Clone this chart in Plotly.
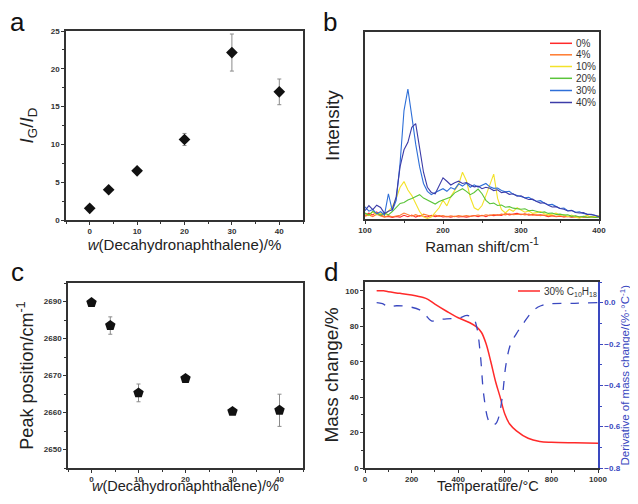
import plotly.graph_objects as go

OFF = 8               # page body margin in the browser
FW, FH = 638 - 2 * OFF, 504 - 2 * OFF   # figure fits the 638x504 window without scrolling

# ---------- Panel a data ----------
a_x = [0, 4, 10, 20, 30, 40]
a_y = [1.55, 4.0, 6.5, 10.65, 22.15, 16.95]
a_err = [0.15, 0.15, 0.15, 0.8, 2.45, 1.7]

# ---------- Panel b data ----------
b_x = list(range(100, 401, 5))
b_labels = ["0%", "4%", "10%", "20%", "30%", "40%"]
b_colors = ["#ff2a2a", "#ff7a2e", "#f3e22a", "#5ac43a", "#2e6fd8", "#3c3ca8"]
b_0 = [2.0, 3.1, 2.2, 3.8, 2.1, 1.2, 1.4, 0.9, 1.3, 1.0, 2.0, 1.2, 2.1, 1.0, 1.9, 1.7,
       1.1, 2.0, 1.2, 1.8, 1.1, 1.4, 1.0, 1.5, 1.1, 1.3, 1.0, 1.4, 1.9, 1.2, 2.0, 1.3,
       2.1, 1.8, 2.2, 1.9, 2.9, 2.2, 2.8, 3.0, 2.3, 2.8, 2.1, 2.4, 2.0, 2.2, 1.9, 1.3,
       1.8, 1.2, 1.5, 1.1, 1.3, 1.0, 1.2, 0.9, 1.1, 0.8, 1.0, 0.9, 1.1]
b_4 = [1.5, 2.2, 1.3, 2.5, 1.6, 1.0, 1.8, 1.2, 1.6, 2.0, 3.2, 2.4, 1.5, 2.3, 1.4, 2.6,
       2.0, 1.5, 2.1, 1.4, 1.9, 1.2, 1.7, 1.3, 1.8, 1.5, 1.9, 1.4, 1.7, 2.1, 1.6, 2.3,
       1.8, 2.4, 2.0, 2.6, 2.2, 2.8, 2.3, 2.5, 2.7, 2.2, 2.6, 2.0, 2.3, 1.8, 2.1, 1.6,
       1.9, 1.4, 1.7, 1.2, 1.5, 1.1, 1.4, 1.0, 1.3, 0.9, 1.2, 1.0, 1.3]
b_10 = [3.0, 1.8, 4.0, 2.2, 3.1, 1.9, 4.2, 6.5, 11.0, 17.0, 20.0, 15.5, 12.5, 8.0, 4.0,
        1.2, 0.3, 1.0, 3.5, 6.0, 10.0, 7.0, 12.0, 15.5, 18.5, 25.0, 20.5, 11.5, 6.0, 4.8,
        7.2, 12.5, 18.0, 24.0, 11.0, 5.0, 3.2, 5.2, 4.1, 6.0, 4.8, 3.6, 4.3, 3.0, 3.4,
        4.0, 2.8, 2.2, 2.6, 3.1, 2.0, 2.4, 1.2, 2.1, 1.0, 0.4, 1.3, 2.0, 0.9, 1.2, 1.8]
b_20 = [3.2, 2.1, 4.1, 2.9, 2.0, 3.2, 2.2, 4.0, 6.2, 8.3, 8.8, 10.2, 11.0, 12.2, 13.0,
        11.2, 10.1, 9.2, 8.0, 9.3, 10.1, 11.2, 11.8, 14.0, 15.0, 16.2, 14.8, 13.0, 14.2,
        16.0, 13.5, 10.0, 8.2, 8.5, 7.2, 7.5, 6.3, 6.6, 5.8, 5.4, 5.2, 5.5, 4.4, 4.7, 4.0,
        3.5, 3.8, 3.0, 3.2, 2.4, 2.6, 2.1, 2.3, 1.4, 1.7, 1.1, 1.4, 0.9, 1.2, 0.8, 1.0]
b_30 = [6.5, 4.2, 5.1, 2.8, 3.9, 2.2, 13.5, 4.5, 10.0, 30.0, 58.0, 69.5, 55.0, 40.0,
        28.0, 19.0, 14.8, 13.0, 14.2, 15.3, 16.2, 14.8, 16.8, 15.9, 18.8, 17.6, 19.2,
        17.0, 18.3, 17.1, 18.0, 19.0, 17.2, 16.4, 16.6, 15.2, 14.5, 14.8, 13.2, 12.6,
        12.2, 11.4, 11.6, 10.3, 9.5, 9.8, 8.4, 7.6, 7.8, 6.5, 5.6, 5.9, 4.4, 4.7, 3.6,
        3.9, 3.0, 2.6, 2.4, 2.0, 1.2]
b_40 = [4.5, 7.2, 5.0, 7.4, 6.2, 3.0, 4.2, 5.0, 12.0, 28.0, 37.0, 41.0, 49.0, 51.0,
        38.0, 25.0, 17.0, 14.2, 13.5, 18.0, 22.0, 20.2, 18.2, 19.4, 20.2, 19.0, 19.5,
        18.3, 17.2, 17.6, 16.2, 17.0, 16.4, 15.2, 15.6, 14.1, 14.4, 13.2, 13.5, 12.2,
        12.4, 11.2, 10.4, 10.6, 9.3, 8.5, 8.7, 7.3, 6.4, 6.6, 5.6, 5.2, 4.3, 4.5, 3.5,
        3.2, 3.4, 2.4, 2.5, 1.9, 1.3]
b_series = [b_0, b_4, b_10, b_20, b_30, b_40]

# ---------- Panel c data ----------
c_x = [0, 4, 10, 20, 30, 40]
c_y = [2689.7, 2683.5, 2665.3, 2669.2, 2660.3, 2660.6]
c_err = [0.3, 2.35, 2.4, 0.3, 0.3, 4.35]

# ---------- Panel d data ----------
d_label = "30% C<sub>10</sub>H<sub>18</sub>"
d_T = [50, 80, 100, 150, 200, 250, 270, 300, 350, 400, 450, 480, 500, 520, 540,
       560, 580, 600, 620, 650, 700, 750, 800, 900, 1000]
d_M = [100, 100, 99.5, 98.6, 97.6, 96.2, 95.2, 92.5, 88.5, 84.8, 82.0, 79.5, 76.5,
       70.0, 60.0, 49.0, 40.0, 30.5, 25.0, 21.0, 16.8, 15.0, 14.5, 14.2, 14.0]
dtg_T = [50, 75, 100, 135, 190, 235, 260, 285, 320, 350, 400, 440, 465, 480, 495,
         510, 530, 545, 555, 565, 575, 590, 605, 625, 650, 680, 720, 755, 800, 900, 1000]
dtg_D = [0.0, -0.005, -0.02, -0.015, -0.02, -0.035, -0.06, -0.088, -0.082, -0.078,
         -0.075, -0.062, -0.075, -0.12, -0.25, -0.45, -0.57, -0.59, -0.59, -0.58,
         -0.55, -0.45, -0.3, -0.2, -0.15, -0.1, -0.04, -0.015, -0.005, -0.003, 0.0]

# ---------- helpers (screen pixels -> paper fractions) ----------
def px(x):
    return (x - OFF) / FW

def py(y):
    return 1 - (y - OFF) / FH

def xd(x0, x1):
    return [px(x0), px(x1)]

def yd(y0, y1):  # y0 top px, y1 bottom px
    return [py(y1), py(y0)]

FONT = "Liberation Sans, Arial, sans-serif"
TICKFONT = dict(family=FONT, size=8, color="#333333", weight="bold")
TITLEFONT = dict(family=FONT, size=15, color="#222222")
YTITLEFONT = dict(family=FONT, size=19, color="#222222")
BLUE = "#3a48c0"
BOTTOM = 468  # bottom edge of panels c and d

def ax(**kw):
    base = dict(showline=True, linecolor="#333333", linewidth=1.5, mirror=True,
                ticks="outside", ticklen=3, tickwidth=1, tickcolor="#333333",
                showgrid=False, zeroline=False, tickfont=TICKFONT, automargin=False)
    base.update(kw)
    return base

fig = go.Figure()

# Panel a
fig.add_trace(go.Scatter(x=a_x, y=a_y, mode="markers", xaxis="x", yaxis="y",
                         marker=dict(symbol="diamond", size=9, color="#111111"),
                         error_y=dict(type="data", array=a_err, color="#8a8a8a",
                                      thickness=1, width=2),
                         showlegend=False))

# Panel b
for lab, col, ys in zip(b_labels, b_colors, b_series):
    fig.add_trace(go.Scatter(x=b_x, y=ys, mode="lines", name=lab, xaxis="x2", yaxis="y2",
                             line=dict(color=col, width=1.1), showlegend=False))

# Panel c
fig.add_trace(go.Scatter(x=c_x, y=c_y, mode="markers", xaxis="x3", yaxis="y3",
                         marker=dict(symbol="pentagon", size=11, color="#111111"),
                         error_y=dict(type="data", array=c_err, color="#8a8a8a",
                                      thickness=1, width=2),
                         showlegend=False))

# Panel d
fig.add_trace(go.Scatter(x=d_T, y=d_M, mode="lines", xaxis="x4", yaxis="y4",
                         name=d_label, showlegend=False,
                         line=dict(color="#ff2a2a", width=1.5, shape="spline")))
fig.add_trace(go.Scatter(x=dtg_T, y=dtg_D, mode="lines", xaxis="x4", yaxis="y5",
                         showlegend=False,
                         line=dict(color=BLUE, width=1.3, dash="dash", shape="spline")))

fig.update_layout(
    width=FW, height=FH, margin=dict(l=0, r=0, t=0, b=0),
    paper_bgcolor="white", plot_bgcolor="white", showlegend=False,
    font=dict(family=FONT),
    xaxis=ax(domain=xd(66, 303), range=[-5, 45], dtick=10, anchor="y",
             minor=dict(ticks="outside", ticklen=2, dtick=5, tickcolor="#333333"),
             title=dict(text="<i>w</i>(Decahydronaphthalene)/%", font=TITLEFONT, standoff=4)),
    yaxis=ax(domain=yd(31, 220), range=[0, 25], dtick=5, anchor="x",
             minor=dict(ticks="outside", ticklen=2, dtick=2.5, tickcolor="#333333"),
             title=dict(text="<i>I</i><sub>G</sub>/<i>I</i><sub>D</sub>",
                        font=dict(family=FONT, size=19, color="#222222"), standoff=12)),
    xaxis2=ax(domain=xd(365, 599), range=[100, 400], dtick=100, anchor="y2",
              minor=dict(ticks="outside", ticklen=2, dtick=50, tickcolor="#333333"),
              title=dict(text="Raman shift/cm<sup>-1</sup>", font=TITLEFONT, standoff=4)),
    yaxis2=ax(domain=yd(32, 219), range=[0, 100], anchor="x2", ticks="",
              showticklabels=False,
              title=dict(text="Intensity", font=YTITLEFONT, standoff=19)),
    xaxis3=ax(domain=xd(68, 303), range=[-5, 45], dtick=10, anchor="y3",
              minor=dict(ticks="outside", ticklen=2, dtick=5, tickcolor="#333333")),
    yaxis3=ax(domain=yd(283, BOTTOM), range=[2645, 2695], dtick=10, anchor="x3",
              minor=dict(ticks="outside", ticklen=2, dtick=5, tickcolor="#333333"),
              title=dict(text="Peak position/cm<sup>-1</sup>",
                         font=dict(family=FONT, size=18, color="#222222"), standoff=6)),
    xaxis4=ax(domain=xd(365, 598), range=[0, 1000], dtick=200, anchor="y4",
              minor=dict(ticks="outside", ticklen=2, dtick=100, tickcolor="#333333")),
    yaxis4=ax(domain=yd(282, BOTTOM), range=[0, 105], dtick=20, anchor="x4", mirror=False,
              minor=dict(ticks="outside", ticklen=2, dtick=10, tickcolor="#333333"),
              title=dict(text="Mass change/%", font=YTITLEFONT, standoff=2)),
    yaxis5=ax(domain=yd(282, BOTTOM), range=[-0.8, 0.1], dtick=0.2, tickformat=".1f",
              overlaying="y4", side="right", anchor="x4", mirror=False,
              linecolor=BLUE, tickcolor=BLUE,
              tickfont=dict(family=FONT, size=8, color=BLUE, weight="bold"),
              minor=dict(ticks="outside", ticklen=2, dtick=0.1, tickcolor=BLUE)),
)

# bottom-row x-axis titles, anchored to the bottom of the page
for txt, xc in [("<i>w</i>(Decahydronaphthalene)/%", 185.5), ("Temperature/°C", 488)]:
    fig.add_annotation(text=txt, x=px(xc), y=0, xref="paper", yref="paper",
                       showarrow=False, xanchor="center", yanchor="bottom",
                       font=dict(family=FONT, size=14.5, color="#222222"))

# right-axis title of panel d, kept inside the visible page
fig.add_annotation(text="Derivative of mass change/(%·°C<sup>-1</sup>)",
                   x=px(624.5), y=py(375), xref="paper", yref="paper", textangle=-90,
                   showarrow=False, xanchor="center", yanchor="middle",
                   font=dict(family=FONT, size=11.5, color=BLUE))

# manual legend for panel b (compact row spacing as in the figure)
legend_rows = [43.3, 54.8, 66.5, 78.3, 90.5, 102.5]
for lab, col, yy in zip(b_labels, b_colors, legend_rows):
    fig.add_shape(type="line", xref="paper", yref="paper",
                  x0=px(550), x1=px(572), y0=py(yy), y1=py(yy),
                  line=dict(color=col, width=1.5))
    fig.add_annotation(text=lab, x=px(573.5), y=py(yy), xref="paper", yref="paper",
                       showarrow=False, xanchor="left", yanchor="middle",
                       font=dict(family=FONT, size=10, color="#333333"))

# manual legend for panel d
fig.add_shape(type="line", xref="paper", yref="paper",
              x0=px(518), x1=px(540), y0=py(291), y1=py(291),
              line=dict(color="#ff2a2a", width=1.5))
fig.add_annotation(text=d_label, x=px(542), y=py(291.5), xref="paper", yref="paper",
                   showarrow=False, xanchor="left", yanchor="middle",
                   font=dict(family=FONT, size=10, color="#333333"))

for txt, x, y in [("a", 17, 22), ("b", 330, 22), ("c", 17, 272), ("d", 331, 272)]:
    fig.add_annotation(text=txt, x=px(x), y=py(y), xref="paper", yref="paper",
                       showarrow=False, font=dict(family=FONT, size=26, color="#111111"),
                       xanchor="center", yanchor="middle")

fig.write_html("out.html")
